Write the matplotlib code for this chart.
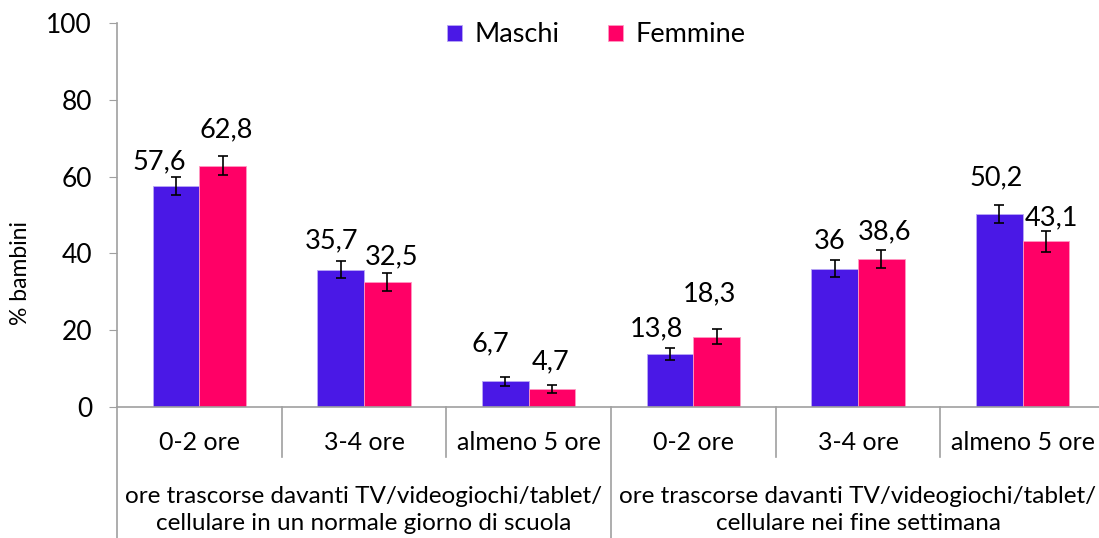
import numpy as np
import matplotlib
matplotlib.use("Agg")
import matplotlib.pyplot as plt
from matplotlib.transforms import blended_transform_factory

plt.rcParams["font.family"] = ["Lato", "DejaVu Sans"]

# data
categories = ["0-2 ore", "3-4 ore", "almeno 5 ore", "0-2 ore", "3-4 ore", "almeno 5 ore"]
groups = ["ore trascorse davanti TV/videogiochi/tablet/\ncellulare in un normale giorno di scuola",
          "ore trascorse davanti TV/videogiochi/tablet/\ncellulare nei fine settimana"]
maschi = [57.6, 35.7, 6.7, 13.8, 36.0, 50.2]
femmine = [62.8, 32.5, 4.7, 18.3, 38.6, 43.1]
maschi_err = [2.3, 2.2, 1.2, 1.6, 2.2, 2.3]
femmine_err = [2.5, 2.3, 1.1, 2.0, 2.3, 2.7]
maschi_lbl = ["57,6", "35,7", "6,7", "13,8", "36", "50,2"]
femmine_lbl = ["62,8", "32,5", "4,7", "18,3", "38,6", "43,1"]

# label nudges (pixels from bar top centre), as placed in the original
maschi_off = [(-17, 24), (-9, 29), (-15, 37), (-13, 25), (-5, 27), (-3, 36)]
femmine_off = [(3, 36), (4, 25), (-1, 27), (-7, 43), (3, 27), (5, 24)]

C_M = "#4A18E6"
C_F = "#FF0066"
GRID = "#A0A0A0"

fig = plt.figure(figsize=(10.99, 5.38), dpi=100)
ax = fig.add_axes([117 / 1099, 131 / 538, 988 / 1099, 384 / 538])

x = np.arange(len(categories))
w = 0.284
ekw = dict(ecolor="black", elinewidth=1.2, capsize=3.6, capthick=1.2)
ax.bar(x - w / 2, maschi, w, color=C_M, edgecolor="#B9A8F5", linewidth=0.6,
       yerr=maschi_err, error_kw=ekw, label="Maschi", zorder=2)
ax.bar(x + w / 2, femmine, w, color=C_F, edgecolor="#FF99C2", linewidth=0.6,
       yerr=femmine_err, error_kw=ekw, label="Femmine", zorder=2)

for i in range(len(x)):
    ax.annotate(maschi_lbl[i], (x[i] - w / 2, maschi[i]), xytext=maschi_off[i],
                textcoords="offset pixels", ha="center", va="center", fontsize=19.5)
    ax.annotate(femmine_lbl[i], (x[i] + w / 2, femmine[i]), xytext=femmine_off[i],
                textcoords="offset pixels", ha="center", va="center", fontsize=19.5)

ax.set_xlim(-0.5, len(x) - 0.5)
ax.set_ylim(0, 100)
ax.set_yticks(range(0, 101, 20))
ax.tick_params(axis="y", labelsize=19, length=6, color=GRID, direction="out", pad=12)
ax.set_xticks([])
ax.set_ylabel("% bambini", fontsize=16.5)
ax.yaxis.set_label_coords(-0.087, 0.35)

for s in ["top", "right"]:
    ax.spines[s].set_visible(False)
ax.spines["left"].set_color(GRID)
ax.spines["bottom"].set_color(GRID)
ax.spines["left"].set_linewidth(1.2)
ax.spines["bottom"].set_linewidth(1.2)

# two-level category axis
tr = blended_transform_factory(ax.transData, ax.transAxes)
px = 1 / 384  # one pixel in axes units (vertical)
for b in [0.5, 1.5, 3.5, 4.5]:
    ax.plot([b, b], [0, -50 * px], color=GRID, lw=1.2, transform=tr, clip_on=False)
for b in [-0.5, 2.5]:
    ax.plot([b, b], [0, -131 * px], color=GRID, lw=1.2, transform=tr, clip_on=False)
for i, c in enumerate(categories):
    ax.text(x[i], -35 * px, c, transform=tr, ha="center", va="center", fontsize=18)
for g, lab in enumerate(groups):
    ax.text(1 + 3 * g, -103 * px, lab, transform=tr, ha="center", va="center",
            fontsize=17.5, linespacing=1.4)

ax.legend(loc="center", bbox_to_anchor=(0.485, 0.969), ncol=2, frameon=False,
          fontsize=19.5, handlelength=0.55, handleheight=0.55, handletextpad=0.45,
          columnspacing=1.8)

fig.savefig("out.png", dpi=100)
